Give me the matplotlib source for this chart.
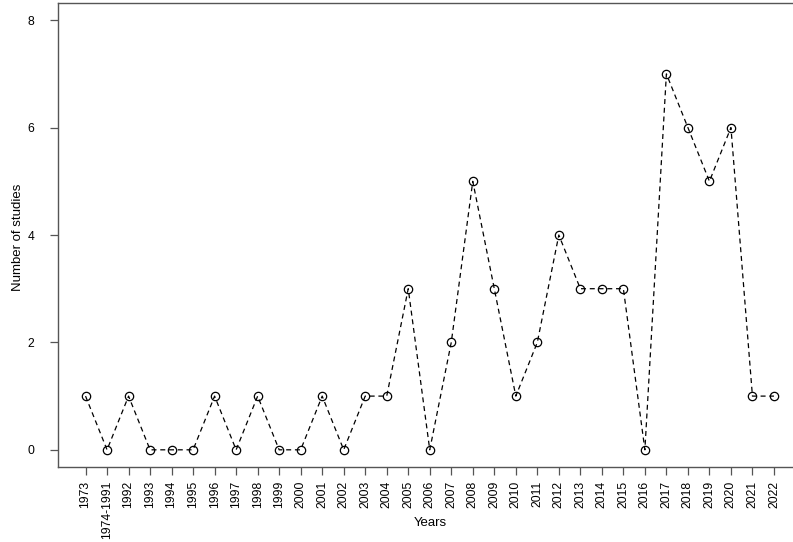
import matplotlib
matplotlib.use("Agg")
import matplotlib.pyplot as plt

years = ["1973", "1974-1991"] + [str(y) for y in range(1992, 2023)]
studies = [1, 0, 1, 0, 0, 0, 1, 0, 1, 0, 0, 1, 0, 1, 1, 3, 0, 2, 5, 3, 1, 2, 4, 3, 3, 3, 0, 7, 6, 5, 6, 1, 1]
yticks = [0, 2, 4, 6, 8]

plt.rcParams['font.family'] = ['Liberation Sans', 'DejaVu Sans']
fig = plt.figure(figsize=(7.93, 5.42), dpi=100)
ax = fig.add_axes([58/793, 75/542, 743.5/793, 464/542])
x = list(range(len(years)))
ax.plot(x, studies, linestyle=(0, (4, 3)), color='black', linewidth=0.9,
        marker='o', markersize=6, markerfacecolor='none', markeredgecolor='black', markeredgewidth=0.9)
n = len(years) - 1
ax.set_xlim(-0.04 * n, n + 0.04 * n)
ax.set_ylim(-0.32, 8.32)
ax.set_xticks(x)
ax.set_xticklabels(years, rotation=90, fontsize=8.7)
ax.set_yticks(yticks)
ax.set_yticklabels([str(v) for v in yticks], fontsize=8.7)
ax.tick_params(direction='out', length=6, width=0.9, color='#555555')
ax.tick_params(axis='x', pad=4)
ax.tick_params(axis='y', pad=11)
for s in ax.spines.values():
    s.set_color('#555555')
    s.set_linewidth(1.0)
fig.text(18/793, 1 - 237/542, "Number of studies", rotation=90, ha='center', va='center', fontsize=9.5)
fig.text(430/793, 1 - 523/542, "Years", ha='center', va='center', fontsize=9.5)
fig.savefig("out.png", dpi=100)
